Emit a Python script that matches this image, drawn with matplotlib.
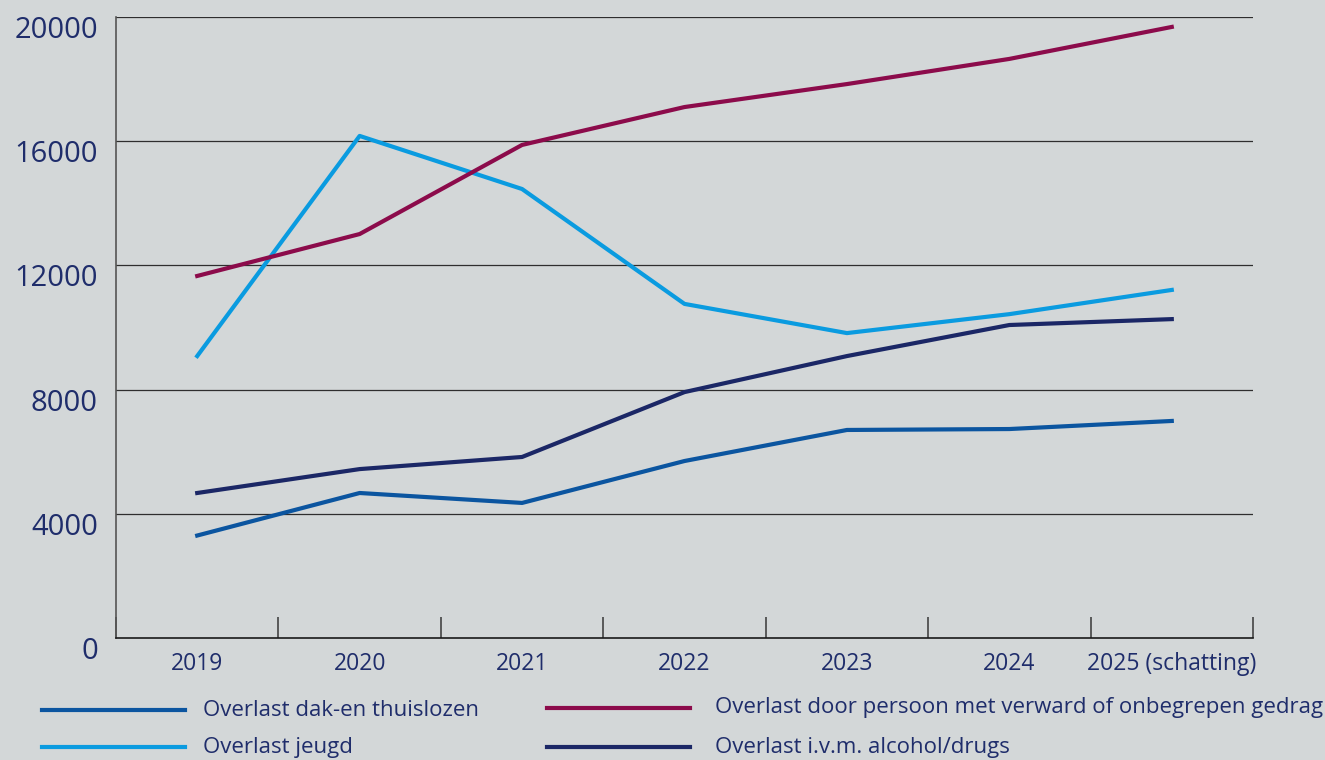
import numpy as np
import matplotlib.pyplot as plt
import matplotlib.transforms as mtransforms
from matplotlib.lines import Line2D

years = ['2019', '2020', '2021', '2022', '2023', '2024', '2025 (schatting)']

dak_thuislozen = [3300, 4670, 4350, 5700, 6700, 6730, 6990]
verward_gedrag = [11660, 13010, 15880, 17100, 17840, 18650, 19680]
jeugd = [9080, 16170, 14460, 10760, 9820, 10430, 11210]
alcohol_drugs = [4670, 5440, 5830, 7920, 9080, 10080, 10270]

series_names = ['Overlast dak-en thuislozen', 'Overlast jeugd',
                'Overlast door persoon met verward of onbegrepen gedrag',
                'Overlast i.v.m. alcohol/drugs']

bg = '#d3d7d8'
txt = '#1f2d6b'
c_dak = '#0b55a0'
c_jeugd = '#0a9be0'
c_verward = '#8c0b4b'
c_alc = '#1b2766'

plt.rcParams['font.family'] = ['Open Sans', 'DejaVu Sans']

fig = plt.figure(figsize=(13.25, 7.6), dpi=100, facecolor=bg)
ax = fig.add_axes([116/1325, 1-638/760, (1253-116)/1325, (638-17)/760])
ax.set_facecolor(bg)

x = np.arange(len(years))
lw = 3.0
ax.plot(x, dak_thuislozen, color=c_dak, lw=lw, zorder=3)
ax.plot(x, jeugd, color=c_jeugd, lw=lw, zorder=3)
ax.plot(x, verward_gedrag, color=c_verward, lw=lw, zorder=3)
ax.plot(x, alcohol_drugs, color=c_alc, lw=lw, zorder=3)

ax.set_xlim(-0.5, 6.5)
ax.set_ylim(0, 20000)

yt = [0, 4000, 8000, 12000, 16000, 20000]
ax.set_yticks(yt)
ax.set_yticklabels([str(v) for v in yt], fontsize=21, color=txt)
for v in yt[1:]:
    ax.axhline(v, color='#2e2e2e', lw=0.9, zorder=1)
ax.tick_params(axis='y', length=0, pad=13)
off = mtransforms.ScaledTranslation(0, -10/100, fig.dpi_scale_trans)
for lab in ax.get_yticklabels():
    lab.set_transform(lab.get_transform() + off)

ax.set_xticks(x)
ax.set_xticklabels(years, fontsize=16.5, color=txt)
ax.tick_params(axis='x', length=0, pad=10)
ax.set_xticks(np.arange(-0.5, 7, 1), minor=True)
ax.tick_params(axis='x', which='minor', direction='in', length=15, width=1.2, color='#444444')

for s in ['top', 'right']:
    ax.spines[s].set_visible(False)
ax.spines['left'].set_color('#555555')
ax.spines['left'].set_linewidth(1.2)
ax.spines['bottom'].set_color('#1a1a1a')
ax.spines['bottom'].set_linewidth(1.2)

# legend drawn by hand in figure pixels
legend_items = [
    (series_names[0], c_dak, 42, 185, 203, 710),
    (series_names[1], c_jeugd, 42, 185, 203, 747),
    (series_names[2], c_verward, 547, 690, 715, 708),
    (series_names[3], c_alc, 547, 690, 715, 747),
]
for name, col, x0, x1, tx, ty in legend_items:
    fig.add_artist(Line2D([x0/1325, x1/1325], [1-ty/760, 1-ty/760],
                          color=col, lw=3.0, transform=fig.transFigure))
    fig.text(tx/1325, 1-ty/760, name, fontsize=16, color=txt, va='center', ha='left')

fig.savefig('out.png', dpi=100, facecolor=bg)
